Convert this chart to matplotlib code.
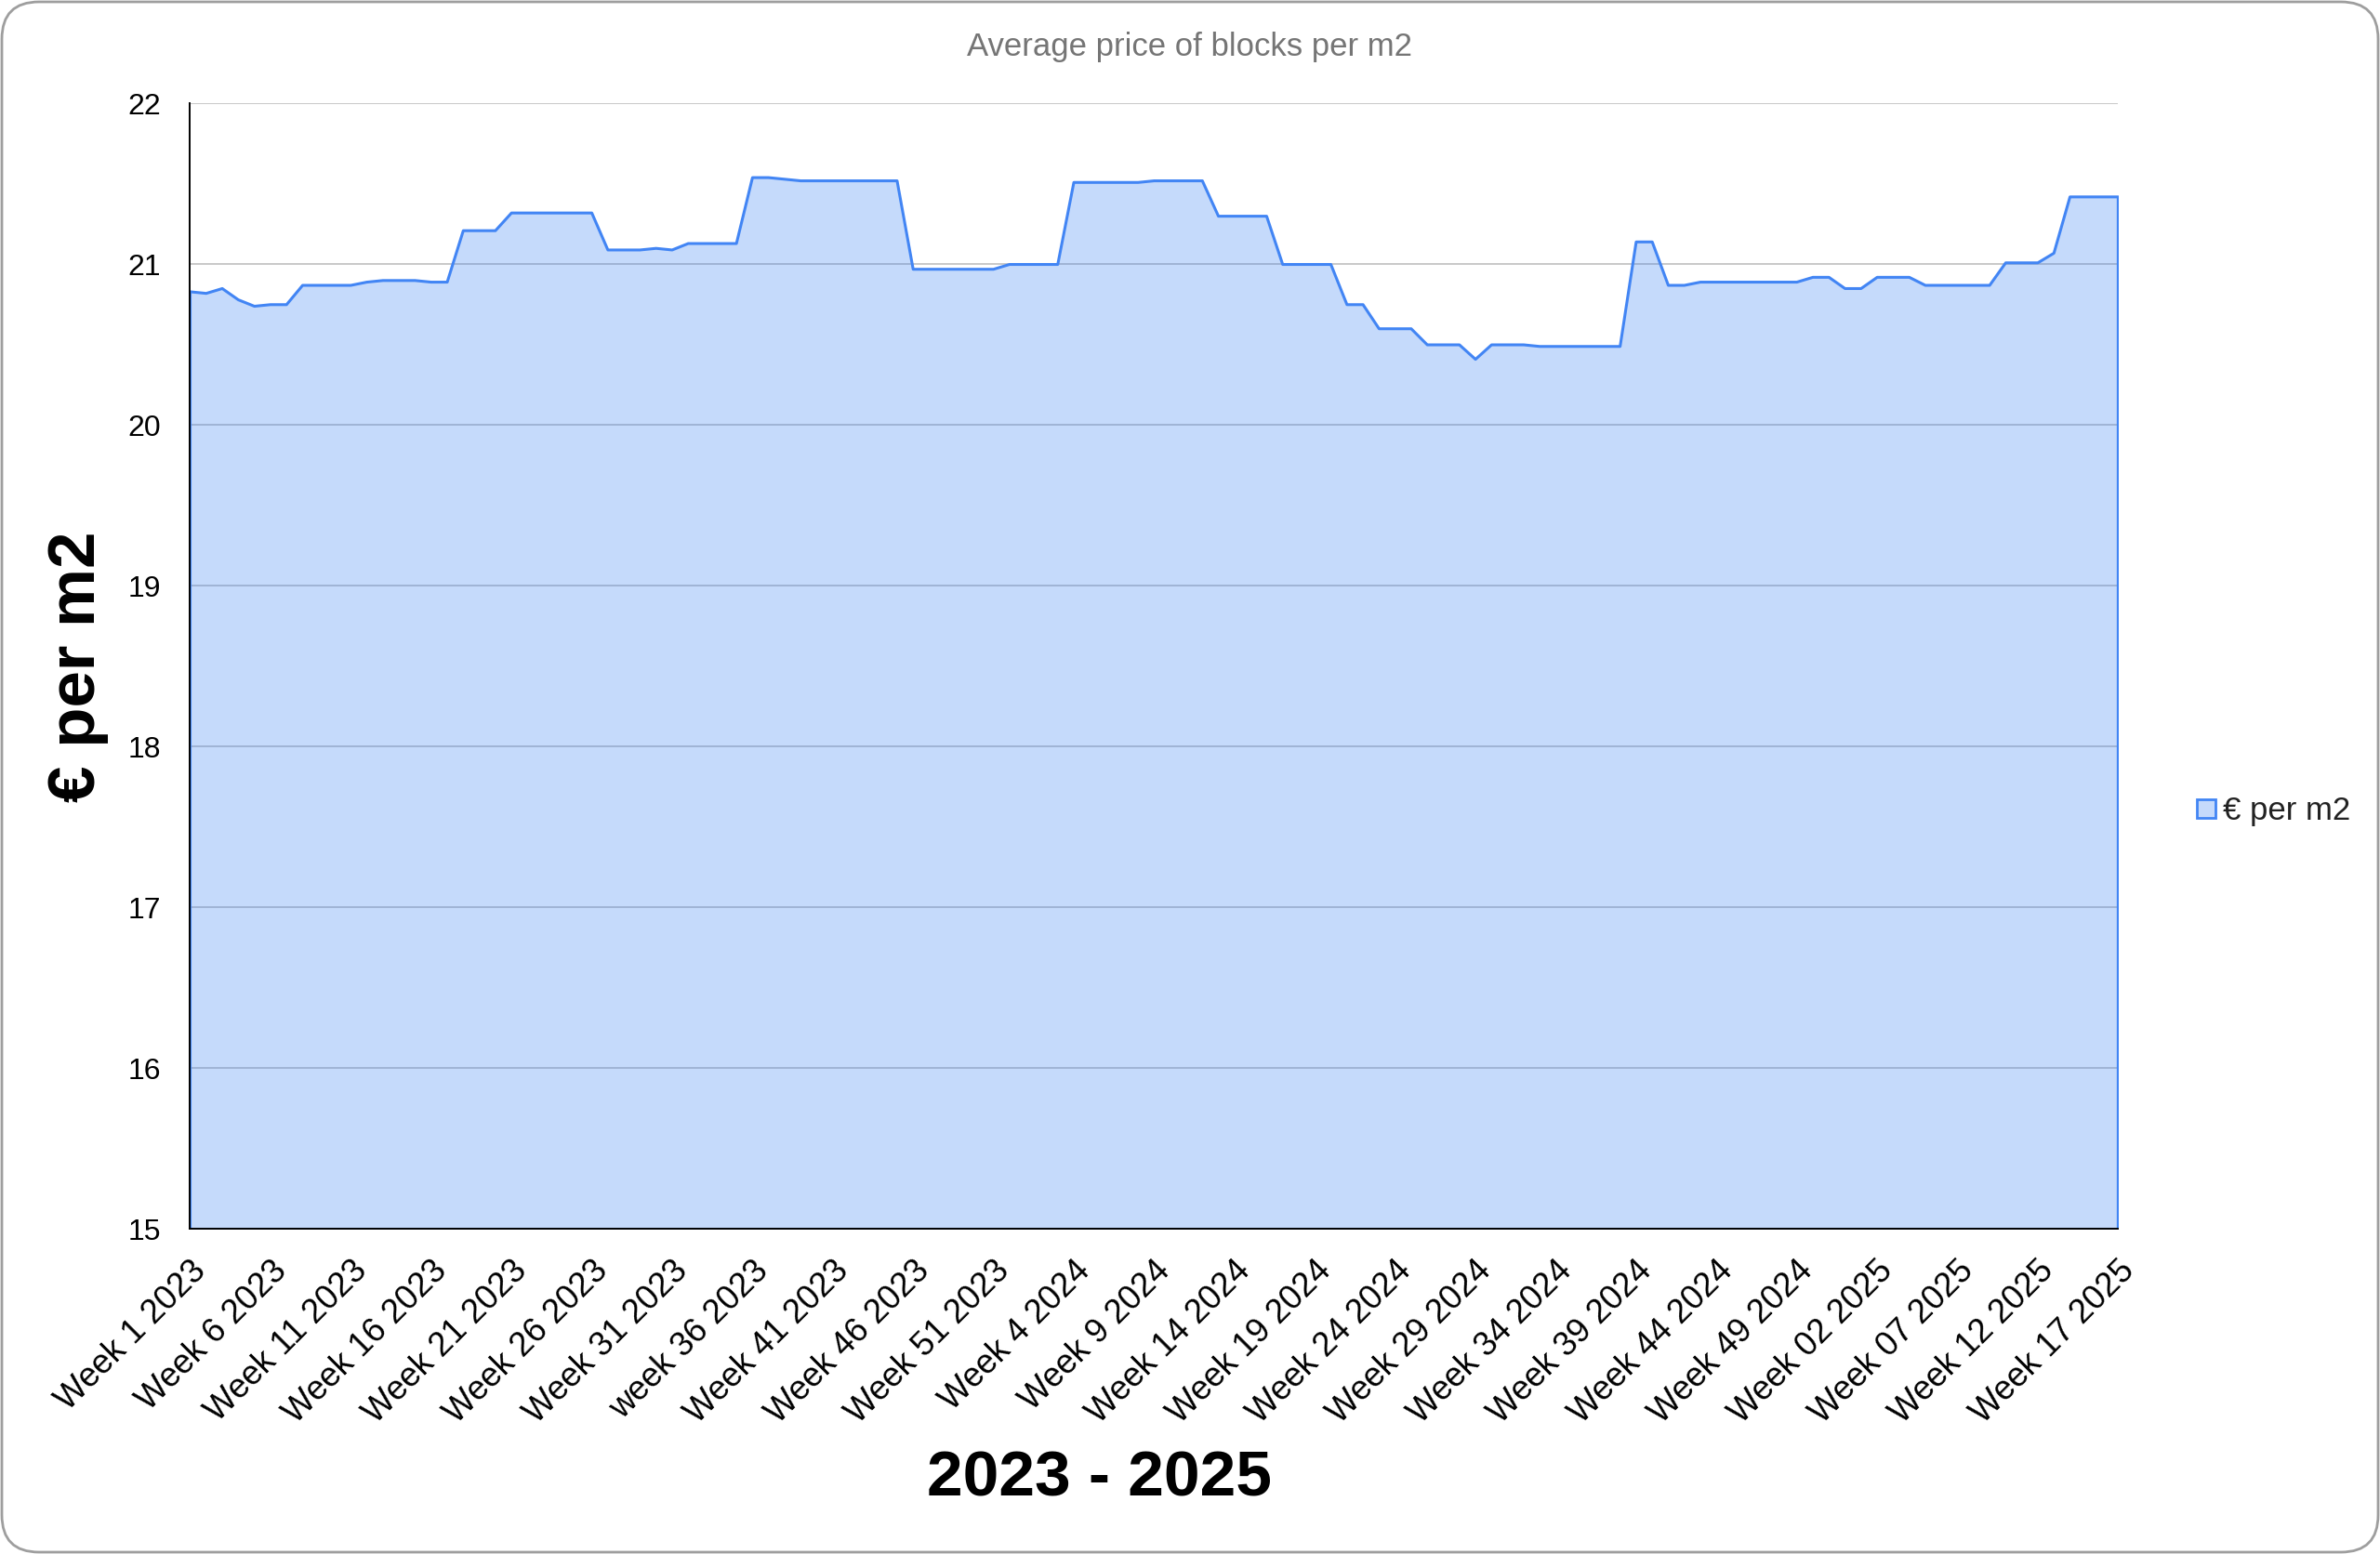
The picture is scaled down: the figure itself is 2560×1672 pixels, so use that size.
import matplotlib.pyplot as plt
import numpy as np
from matplotlib.patches import FancyBboxPatch, Patch
from matplotlib.transforms import IdentityTransform

plt.rcParams['font.family'] = ['Liberation Sans', 'DejaVu Sans']

# weekly average price, Week 1 2023 .. Week 17 2025
prices = [
    20.83, 20.82, 20.85, 20.78, 20.74, 20.75, 20.75, 20.87, 20.87, 20.87,
    20.87, 20.89, 20.90, 20.90, 20.90, 20.89, 20.89, 21.21, 21.21, 21.21,
    21.32, 21.32, 21.32, 21.32, 21.32, 21.32, 21.09, 21.09, 21.09, 21.10,
    21.09, 21.13, 21.13, 21.13, 21.13, 21.54, 21.54, 21.53, 21.52, 21.52,
    21.52, 21.52, 21.52, 21.52, 21.52, 20.97, 20.97, 20.97, 20.97, 20.97,
    20.97, 21.00, 21.00, 21.00, 21.00, 21.51, 21.51, 21.51, 21.51, 21.51,
    21.52, 21.52, 21.52, 21.52, 21.30, 21.30, 21.30, 21.30, 21.00, 21.00,
    21.00, 21.00, 20.75, 20.75, 20.60, 20.60, 20.60, 20.50, 20.50, 20.50,
    20.41, 20.50, 20.50, 20.50, 20.49, 20.49, 20.49, 20.49, 20.49, 20.49,
    21.14, 21.14, 20.87, 20.87, 20.89, 20.89, 20.89, 20.89, 20.89, 20.89,
    20.89, 20.92, 20.92, 20.85, 20.85, 20.92, 20.92, 20.92, 20.87, 20.87,
    20.87, 20.87, 20.87, 21.01, 21.01, 21.01, 21.07, 21.42, 21.42, 21.42,
    21.42,
]

tick_labels = [
    'Week 1 2023', 'Week 6 2023', 'Week 11 2023', 'Week 16 2023', 'Week 21 2023',
    'Week 26 2023', 'Week 31 2023', 'week 36 2023', 'Week 41 2023', 'Week 46 2023',
    'Week 51 2023', 'Week 4 2024', 'Week 9 2024', 'Week 14 2024', 'Week 19 2024',
    'Week 24 2024', 'Week 29 2024', 'Week 34 2024', 'Week 39 2024', 'Week 44 2024',
    'Week 49 2024', 'Week 02 2025', 'Week 07 2025', 'Week 12 2025', 'Week 17 2025',
]
tick_step = 5

line_color = '#4285f4'
fill_color = (66 / 255, 133 / 255, 244 / 255, 0.3)

x = np.arange(len(prices))

fig = plt.figure(figsize=(25.6, 16.72), dpi=100)
ax = fig.add_axes([0.0797, 0.2093, 0.8101, 0.7243])

ax.set_xlim(0, len(prices) - 1)
ax.set_ylim(15, 22)
ax.set_yticks(np.arange(15, 23, 1))
ax.yaxis.grid(True, color='#c8c8c8', linewidth=1.4, zorder=0)
ax.set_axisbelow(True)

ax.fill_between(x, prices, 15, facecolor=fill_color, edgecolor=line_color,
                linewidth=2.2, zorder=2)

ax.set_xticks(x[::tick_step])
ax.set_xticklabels(tick_labels, rotation=45, ha='right', va='top',
                   rotation_mode='anchor', fontsize=26)
ax.tick_params(axis='both', length=0, colors='#000000')
ax.tick_params(axis='y', labelsize=23, pad=22)
ax.tick_params(axis='x', pad=20)

for side in ['top', 'right']:
    ax.spines[side].set_visible(False)
for side in ['left', 'bottom']:
    ax.spines[side].set_color('#000000')
    ax.spines[side].set_linewidth(1.4)
    ax.spines[side].set_zorder(3)

fig.text(0.5, 0.970, 'Average price of blocks per m2', ha='center', va='center',
         fontsize=25, color='#757575')
fig.text(0.033, 0.571, '€ per m2', rotation=90, ha='center', va='center',
         fontsize=51, fontweight='bold')
fig.text(0.4618, 0.048, '2023 - 2025', ha='center', va='center',
         fontsize=50, fontweight='bold')

handle = Patch(facecolor=fill_color, edgecolor=line_color, linewidth=2)
fig.legend([handle], ['€ per m2'], loc='center left', bbox_to_anchor=(0.911, 0.478),
           frameon=False, fontsize=25, handlelength=0.55, handleheight=0.55,
           handletextpad=0.25, labelcolor='#222222')

# rounded frame around the whole chart
frame = FancyBboxPatch((2, 2), 2556, 1668, boxstyle='round,pad=0,rounding_size=40',
                       transform=IdentityTransform(), facecolor='none',
                       edgecolor='#9e9e9e', linewidth=2)
fig.add_artist(frame)

fig.savefig('out.png', dpi=100)
